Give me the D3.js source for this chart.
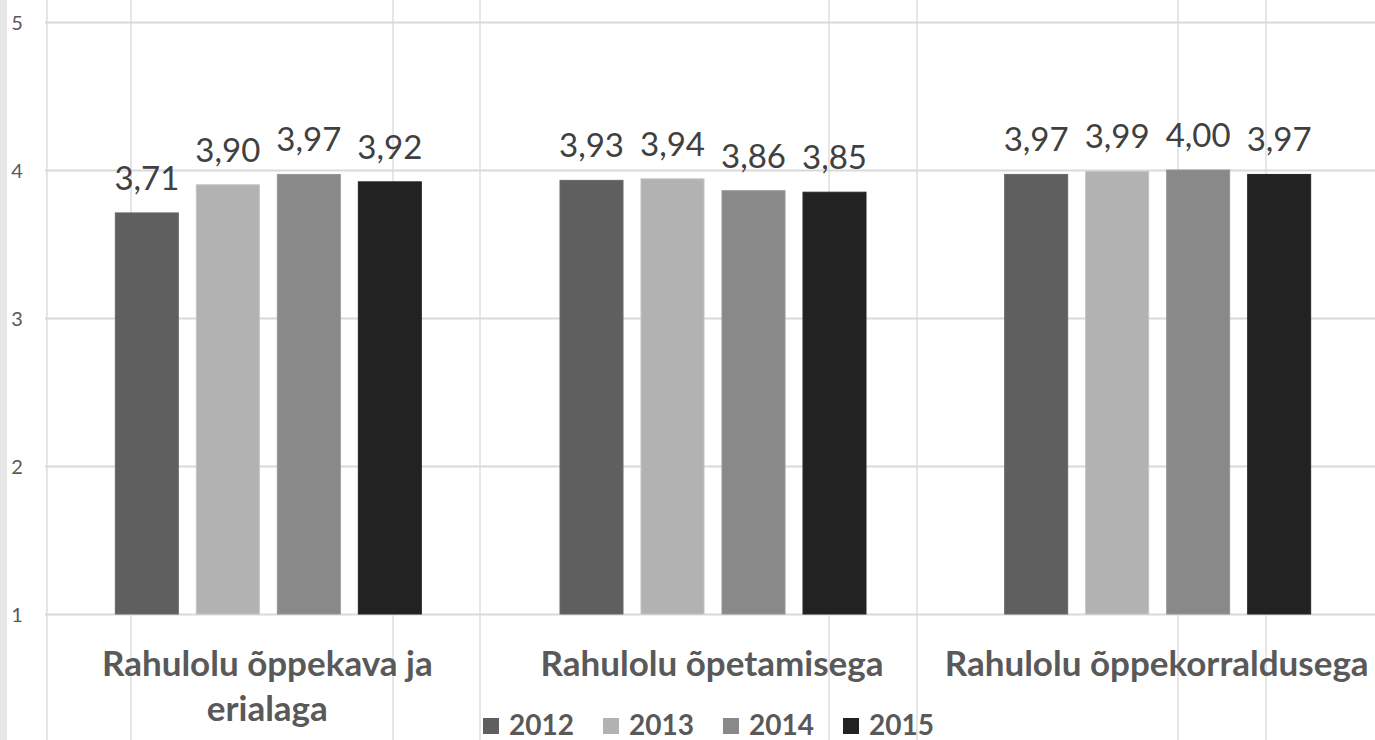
<!DOCTYPE html>
<html><head><meta charset="utf-8">
<script src="https://cdn.jsdelivr.net/npm/d3@7/dist/d3.min.js"></script>
<style>
html,body{margin:0;padding:0;background:#fff;}
svg{display:block;}
</style></head>
<body>
<svg id="chart" width="1375" height="740"></svg>
<script>
const categories = ["Rahulolu õppekava ja erialaga", "Rahulolu õpetamisega", "Rahulolu õppekorraldusega"];
const categoryLines = [["Rahulolu õppekava ja", "erialaga"], ["Rahulolu õpetamisega"], ["Rahulolu õppekorraldusega"]];
const series = ["2012", "2013", "2014", "2015"];
const values2012 = [3.71, 3.93, 3.97];
const values2013 = [3.90, 3.94, 3.99];
const values2014 = [3.97, 3.86, 4.00];
const values2015 = [3.92, 3.85, 3.97];
const yTicks = [1, 2, 3, 4, 5];
const colors = ["#5f5f5f", "#b2b2b2", "#898989", "#222222"];

const allValues = [values2012, values2013, values2014, values2015];
const svg = d3.select("#chart");
const W = 1375, H = 740;
const FONT = "Lato, 'Open Sans', 'DejaVu Sans', sans-serif";

// background spreadsheet grid
svg.append("rect").attr("x", 0).attr("y", 0).attr("width", 7).attr("height", H).attr("fill", "#e7e7e7");
const sheetCols = [47, 131, 393, 480, 829, 917, 1178, 1266];
svg.selectAll("line.sheet").data(sheetCols).enter().append("line")
  .attr("x1", d => d).attr("x2", d => d).attr("y1", 0).attr("y2", H)
  .attr("stroke", "#e6e6e6").attr("stroke-width", 2);

const x0 = d3.scaleBand().domain(categories).range([46, 1380]).paddingInner(0).paddingOuter(0);
const y = d3.scaleLinear().domain([1, 5]).range([614, 22]);

// horizontal gridlines
const yAxis = d3.axisLeft(y).tickValues(yTicks).tickSize(-(W - 45)).tickFormat(d3.format("d"));
const gy = svg.append("g").attr("transform", "translate(45,0)").call(yAxis);
gy.attr("font-size", null).attr("font-family", null);
gy.select(".domain").remove();
gy.selectAll(".tick line").attr("stroke", "#d9d9d9").attr("stroke-width", 2);
gy.selectAll(".tick text").attr("x", -28).attr("dy", "0.36em").attr("text-anchor", "middle")
  .attr("fill", "#595959").attr("font-size", "20px").attr("font-family", FONT);

// bars
const barStep = 81, barGap = 18;
const groupW = barStep * 4 - barGap;
const x1 = d3.scaleBand().domain(series).range([0, groupW]).paddingInner(barGap / barStep).paddingOuter(0);
const groups = svg.selectAll("g.cat").data(categories).enter().append("g")
  .attr("transform", d => `translate(${x0(d) + x0.bandwidth() / 2 - groupW / 2},0)`);

groups.each(function (c, ci) {
  const g = d3.select(this);
  series.forEach((s, si) => {
    const v = allValues[si][ci];
    g.append("rect")
      .attr("x", x1(s)).attr("width", x1.bandwidth())
      .attr("y", y(v)).attr("height", y(1) - y(v))
      .attr("fill", colors[si]).attr("stroke", d3.color(colors[si]).brighter(0.25)).attr("stroke-width", 1);
    g.append("text")
      .attr("x", x1(s) + x1.bandwidth() / 2).attr("y", y(v) - 23)
      .attr("text-anchor", "middle").attr("fill", "#404040")
      .style("font-family", FONT).style("font-size", "33px")
      .text(v.toFixed(2).replace(".", ","));
  });
});

// category labels
categories.forEach((c, ci) => {
  const t = svg.append("text").attr("text-anchor", "middle")
    .attr("fill", "#595959").style("font-family", FONT).style("font-size", "35px").style("font-weight", "bold");
  categoryLines[ci].forEach((ln, li) => {
    t.append("tspan").attr("x", x0(c) + x0.bandwidth() / 2 - 1).attr("y", 676 + li * 45).text(ln);
  });
});

// legend
const legend = svg.append("g").attr("transform", "translate(483,0)");
series.forEach((s, i) => {
  const g = legend.append("g").attr("transform", `translate(${i * 120},0)`);
  g.append("rect").attr("x", 0).attr("y", 718).attr("width", 16).attr("height", 16).attr("fill", colors[i]);
  g.append("text").attr("x", 26).attr("y", 735).attr("fill", "#595959")
    .style("font-family", FONT).style("font-size", "28px").style("font-weight", "bold").text(s);
});
</script>
</body></html>
